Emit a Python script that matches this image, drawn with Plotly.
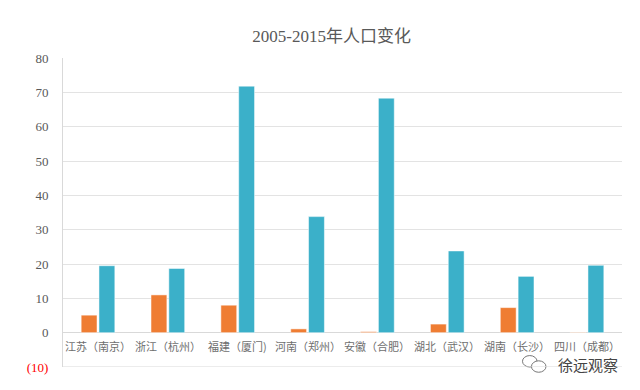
import plotly.graph_objects as go

categories = ["江苏（南京）", "浙江（杭州）", "福建（厦门)", "河南（郑州）",
              "安徽（合肥）", "湖北（武汉）", "湖南（长沙）", "四川（成都）"]
province = [5.1, 11.0, 8.0, 1.1, 0.3, 2.5, 7.3, -0.1]
capital = [19.5, 18.7, 71.8, 33.8, 68.3, 23.8, 16.4, 19.6]
tick_vals = [-10, 0, 10, 20, 30, 40, 50, 60, 70, 80]
tick_text = ["<span style='color:#FF0000'>(10)</span>", "0", "10", "20", "30",
             "40", "50", "60", "70", "80"]

fig = go.Figure()
fig.add_trace(go.Bar(x=categories, y=province, name="省",
                     marker=dict(color="#EF7D33", line=dict(color="#FFFFFF", width=0.5))))
fig.add_trace(go.Bar(x=categories, y=capital, name="省会",
                     marker=dict(color="#3BB0C9", line=dict(color="#FFFFFF", width=0.5))))

for c in categories:
    fig.add_annotation(x=c, y=0, xref="x", yref="y", text=c, showarrow=False,
                       yanchor="top", yshift=-3,
                       font=dict(family="Noto Sans CJK SC", size=11, color="#6E6E6E"))

# watermark
fig.add_annotation(x=0.996, y=0.008, xref="paper", yref="paper", text="徐远观察",
                   showarrow=False, xanchor="right", yanchor="middle",
                   font=dict(family="Noto Sans CJK SC", size=15, color="#444444"))
fig.add_shape(type="circle", xref="paper", yref="paper",
              x0=0.822, x1=0.848, y0=0.0, y1=0.037, line=dict(color="#777777", width=1))
fig.add_shape(type="circle", xref="paper", yref="paper",
              x0=0.838, x1=0.864, y0=-0.017, y1=0.02, line=dict(color="#777777", width=1),
              fillcolor="white")

fig.update_layout(
    width=632, height=382,
    margin=dict(l=55, r=18, t=50, b=23, autoexpand=False),
    paper_bgcolor="white", plot_bgcolor="white",
    showlegend=False,
    barmode="group", bargap=0.49, bargroupgap=0.11,
    title=dict(text="2005-2015年人口变化", x=0.512, xanchor="center", y=0.926, yanchor="middle",
               font=dict(family="Liberation Serif, Noto Sans CJK SC", size=17, color="#595959")),
    xaxis=dict(showticklabels=False, showgrid=False, showline=False, zeroline=False,
               ticks=""),
    yaxis=dict(range=[-10, 80], tickvals=tick_vals, ticktext=tick_text,
               showgrid=True, gridcolor="#E3E3E3", gridwidth=1,
               zeroline=True, zerolinecolor="#D9D9D9", zerolinewidth=1,
               showline=True, linecolor="#D9D9D9", linewidth=1, mirror=False,
               ticks="", ticklabelstandoff=11,
               tickfont=dict(family="Liberation Serif", size=13, color="#595959")),
)
fig.add_shape(type="line", xref="paper", yref="y", x0=0, x1=1, y0=-10, y1=-10,
              line=dict(color="#D9D9D9", width=1))

fig.write_html("out.html")
